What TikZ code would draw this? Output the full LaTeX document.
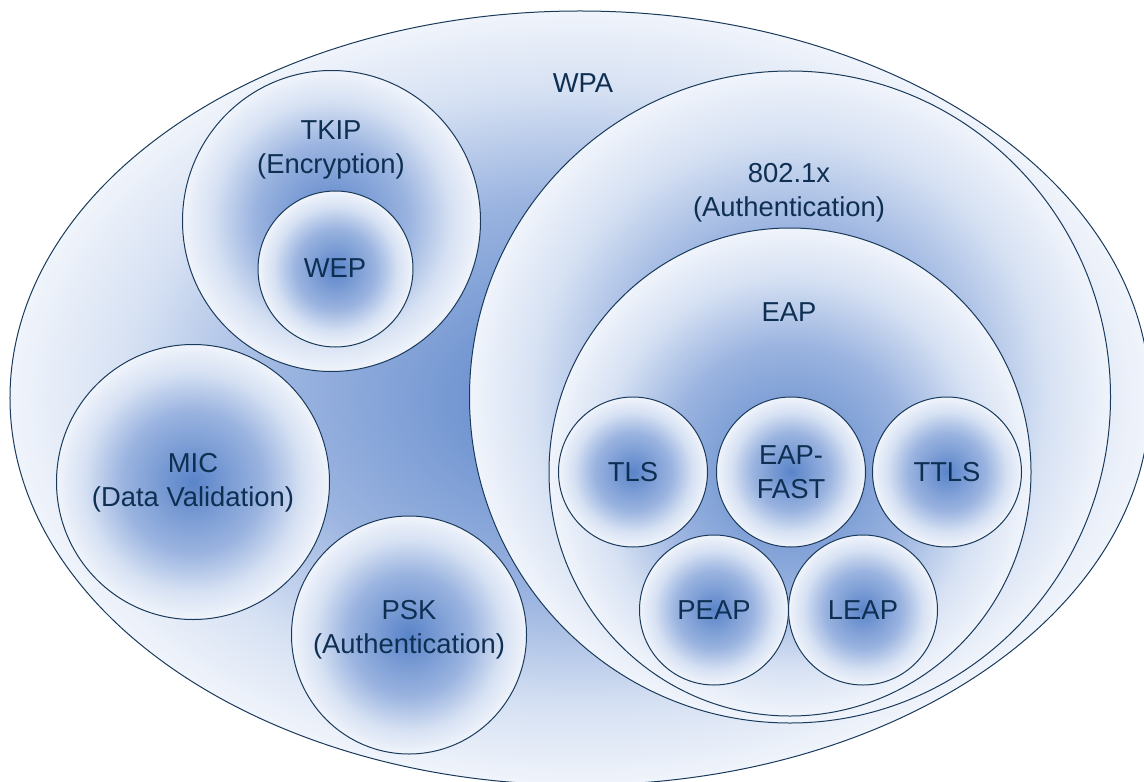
\documentclass[tikz,border=0pt]{standalone}
\usepackage{fontspec}
\setmainfont{Liberation Sans}
\usetikzlibrary{shapes.geometric}
\definecolor{gA}{HTML}{5A84C9}
\definecolor{gB}{HTML}{9BB4E0}
\definecolor{gC}{HTML}{D6E1F3}
\definecolor{gD}{HTML}{F0F4FB}
\definecolor{edgec}{HTML}{1A3A5C}
\definecolor{ink}{HTML}{0E2F52}
\pgfdeclareradialshading{glow}{\pgfpoint{0bp}{0bp}}{color(0bp)=(gA); color(13bp)=(gB); color(20bp)=(gC); color(25bp)=(gD); color(50bp)=(gD)}
\tikzset{
  blob/.style={ellipse, draw=edgec, line width=1bp, shade, shading=glow, inner sep=0pt},
  lbl/.style={text=ink, font=\fontsize{27.5}{34.5}\selectfont, align=center, inner sep=0pt},
}
\begin{document}
\begin{tikzpicture}[x=1bp,y=-1bp]
\useasboundingbox (0,0) rectangle (1144,782);
\clip (0,0) rectangle (1144,782);
% outer WPA
\node[blob, minimum width=1140bp, minimum height=774bp] (wpa) at (580,398) {};
\node[lbl] (wpalbl) at (583,83) {WPA};
% 802.1x and EAP
\node[blob, minimum width=641bp, minimum height=652bp] (dot1x) at (790,397) {};
\node[lbl] (dot1xlbl) at (789,193) {802.1x\\(Authentication)};
\node[blob, minimum width=482bp, minimum height=488bp] (eap) at (790,472) {};
\node[lbl] (eaplbl) at (789,312) {EAP};
% EAP methods
\node[blob, minimum width=149bp, minimum height=150bp] (tls) at (633,472) {};
\node[lbl] (tlslbl) at (633,472) {TLS};
\node[blob, minimum width=149bp, minimum height=150bp] (fast) at (791,472) {};
\node[lbl] (fastlbl) at (791,472) {EAP-\\FAST};
\node[blob, minimum width=149bp, minimum height=150bp] (ttls) at (947,472) {};
\node[lbl] (ttlslbl) at (947,472) {TTLS};
\node[blob, minimum width=149bp, minimum height=150bp] (peap) at (714,610) {};
\node[lbl] (peaplbl) at (714,610) {PEAP};
\node[blob, minimum width=149bp, minimum height=150bp] (leap) at (863,610) {};
\node[lbl] (leaplbl) at (863,610) {LEAP};
% TKIP and WEP
\node[blob, minimum width=298bp, minimum height=301bp] (tkip) at (331.5,221) {};
\node[lbl] (tkiplbl) at (331,150) {TKIP\\(Encryption)};
\node[blob, minimum width=155bp, minimum height=156bp] (wep) at (335.5,269) {};
\node[lbl] (weplbl) at (335,268) {WEP};
% MIC
\node[blob, minimum width=273bp, minimum height=275bp] (mic) at (193,482) {};
\node[lbl] (miclbl) at (193,483) {MIC\\(Data Validation)};
% PSK
\node[blob, minimum width=235bp, minimum height=238bp] (psk) at (409,635) {};
\node[lbl] (psklbl) at (409,630) {PSK\\(Authentication)};
\end{tikzpicture}
\end{document}
